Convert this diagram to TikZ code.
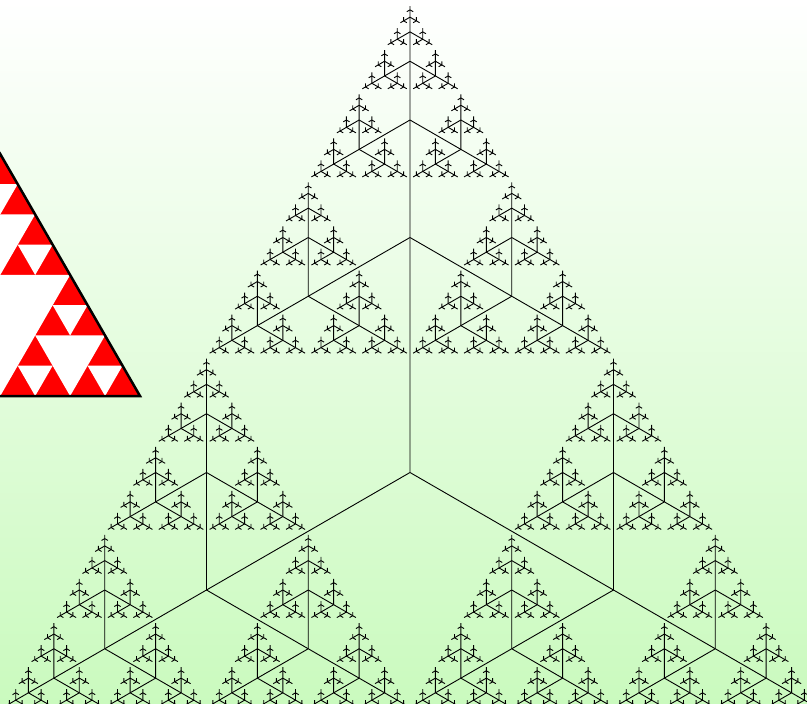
\documentclass[tikz,border=0pt]{standalone}

\definecolor{bggreen}{RGB}{202,250,190}
\tikzset{branch/.style={draw=black, line width=0.9pt}}

% tripod tree: x, y, arm, depth
\newcommand{\tripod}[4]{%
  \draw[branch] (#1,#2) -- ++(0,-#3) (#1,#2) -- ++(-0.866*#3,0.5*#3) (#1,#2) -- ++(0.866*#3,0.5*#3);
  \ifnum#4>1
    \pgfmathsetmacro{\tarm}{#3/2}%
    \pgfmathsetmacro{\tup}{#2-#3}%
    \pgfmathsetmacro{\tdown}{#2+0.5*#3}%
    \pgfmathsetmacro{\tleft}{#1-0.866*#3}%
    \pgfmathsetmacro{\tright}{#1+0.866*#3}%
    \edef\tnext{\noexpand\tripod{#1}{\tup}{\tarm}{\the\numexpr#4-1\relax}%
      \noexpand\tripod{\tleft}{\tdown}{\tarm}{\the\numexpr#4-1\relax}%
      \noexpand\tripod{\tright}{\tdown}{\tarm}{\the\numexpr#4-1\relax}}%
    \tnext
  \fi}

% white holes of the triangle: x, y (bottom left), side, depth
\newcommand{\sierphole}[4]{%
  \fill[white] (#1+0.25*#3,#2-0.433*#3) -- (#1+0.75*#3,#2-0.433*#3) -- (#1+0.5*#3,#2) -- cycle;
  \ifnum#4>1
    \pgfmathsetmacro{\shalf}{#3/2}%
    \pgfmathsetmacro{\smid}{#1+0.5*#3}%
    \pgfmathsetmacro{\squart}{#1+0.25*#3}%
    \pgfmathsetmacro{\stop}{#2-0.433*#3}%
    \edef\snext{\noexpand\sierphole{#1}{#2}{\shalf}{\the\numexpr#4-1\relax}%
      \noexpand\sierphole{\smid}{#2}{\shalf}{\the\numexpr#4-1\relax}%
      \noexpand\sierphole{\squart}{\stop}{\shalf}{\the\numexpr#4-1\relax}}%
    \snext
  \fi}

\begin{document}
\begin{tikzpicture}[x=1pt, y=-1pt]
    \useasboundingbox (0,0) rectangle (807,704);
    \clip (0,0) rectangle (807,704);
    \shade[top color=white, bottom color=bggreen] (0,0) rectangle (807,704);

    % Sierpinski triangle
    \fill[red] (-139.5,396) -- (0.25,154) -- (140,396) -- cycle;
    \sierphole{-139.5}{396}{279.5}{3}
    \draw[line width=2.5pt] (-139.5,396) -- (0.25,154) -- (140,396) -- cycle;

    % tree
    \tripod{410}{472.5}{235}{7}
\end{tikzpicture}
\end{document}
